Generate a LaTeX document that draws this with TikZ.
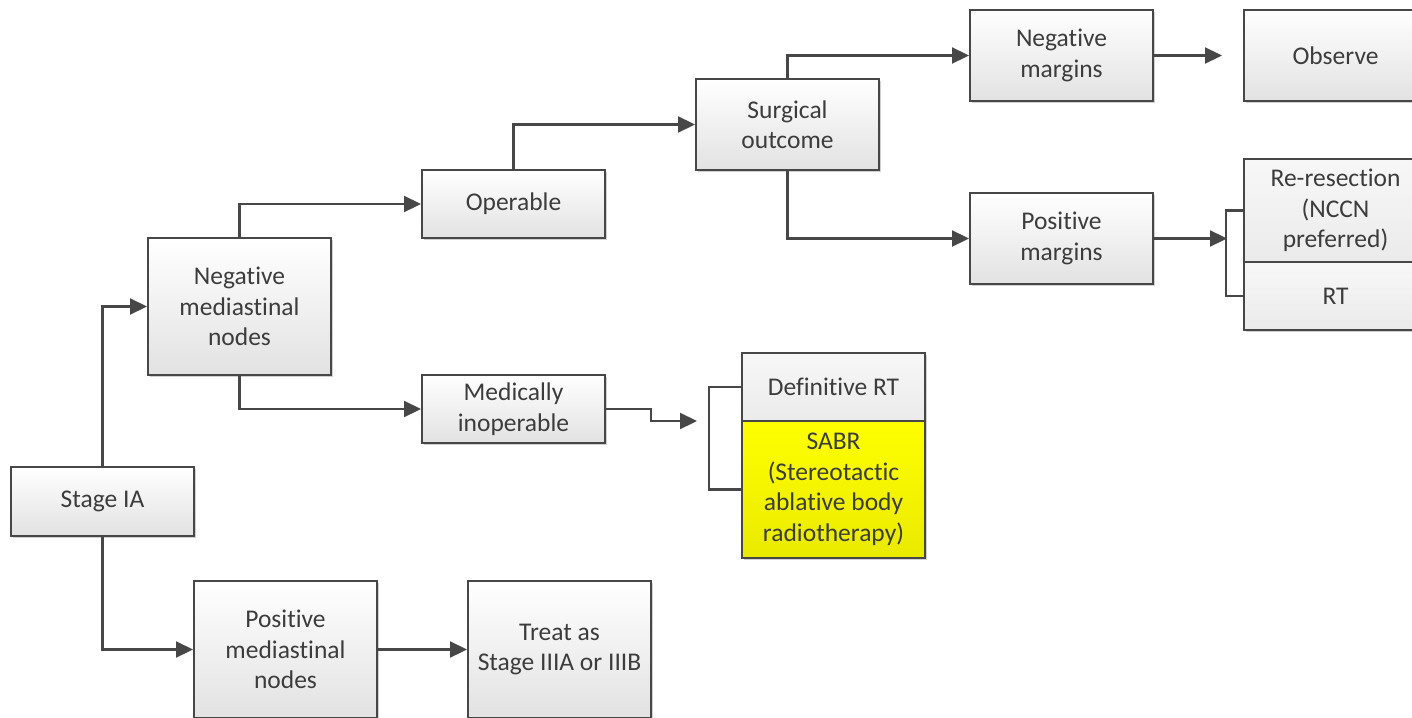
\documentclass[tikz,border=0pt]{standalone}
\usepackage{fontspec}
\setmainfont{Carlito}[Ligatures={NoCommon,NoDiscretionary,NoContextual}]
\usetikzlibrary{arrows.meta,shadows}
\definecolor{txt}{HTML}{3C3C3C}
\definecolor{edge}{HTML}{474747}
\definecolor{boxbot}{HTML}{E2E2E2}
\definecolor{ylw}{HTML}{FFFF00}
\definecolor{ylwb}{HTML}{EAEA00}
\tikzset{
  box/.style={draw=edge, line width=2pt, top color=white, bottom color=boxbot,
    minimum width=183pt, inner sep=0pt, align=center, text=txt,
    font=\fontsize{25.5}{30.5}\selectfont,
    drop shadow={shadow xshift=2pt, shadow yshift=-2pt, opacity=0.18, fill=black}},
  flatbox/.style={box, top color=white!97!black, bottom color=white!92!black},
  yelbox/.style={box, top color=ylw, bottom color=ylwb},
  conn/.style={draw=edge, line width=2.2pt},
  arr/.style={conn, -{Triangle[length=17pt,width=16pt]}}
}
\begin{document}
\begin{tikzpicture}[x=1pt,y=-1pt]
\clip (0,0) rectangle (1412,717);
\useasboundingbox (0,0) rectangle (1412,717);
\fill[white] (0,0) rectangle (1412,717);

\node[box, minimum height=69pt] (stage) at (102.5,501.5) {Stage IA};
\node[box, minimum height=137pt] (neg) at (239.5,306.5) {Negative\\mediastinal\\nodes};
\node[box, minimum height=137pt] (pos) at (285.5,649.5) {Positive\\mediastinal\\nodes};
\node[box, minimum height=137pt] (treat) at (559.5,649.5) {Treat as\\Stage IIIA or IIIB};
\node[box, minimum height=68pt] (oper) at (513.5,204) {Operable};
\node[box, minimum height=68pt] (med) at (513.5,409) {Medically\\inoperable};
\node[box, minimum height=91pt] (surg) at (787.5,124.5) {Surgical\\outcome};
\node[box, minimum height=91pt] (negm) at (1061.5,55.5) {Negative\\margins};
\node[box, minimum height=91pt] (posm) at (1061.5,238.5) {Positive\\margins};
\node[box, minimum height=91pt] (obs) at (1335.5,55.5) {Observe};
\node[flatbox, minimum height=103pt] (rer) at (1335.5,210.5) {Re-resection\\(NCCN\\preferred)};
\node[flatbox, minimum height=68pt] (rt) at (1335.5,296) {RT};
\node[flatbox, minimum height=68pt] (def) at (833.5,387) {Definitive RT};
\node[yelbox, minimum height=137pt] (sabr) at (833.5,489.5) {SABR\\(Stereotactic\\ablative body\\radiotherapy)};

\coordinate (obsin) at (1222,55.5);
\coordinate (rerin) at (1227,238.5);
\coordinate (defin) at (697,421);
\coordinate (medbend) at (651,409);

\draw[arr] (stage.north) |- (neg.west);
\draw[arr] (stage.south) |- (pos.west);
\draw[arr] (pos.east) -- (treat.west);
\draw[arr] (neg.north) |- (oper.west);
\draw[arr] (neg.south) |- (med.west);
\draw[arr] (oper.north) |- (surg.west);
\draw[arr] (surg.north) |- (negm.west);
\draw[arr] (surg.south) |- (posm.west);
\draw[arr] (negm.east) -- (obsin);
\draw[arr] (posm.east) -- (rerin);
\draw[conn] (rer.west) -- ++(-17,0) |- (rt.west);
\draw[arr] (med.east) -- (medbend) -- ++(0,12) -- (defin);
\draw[conn] (def.west) -- ++(-32,0) |- (sabr.west);
\end{tikzpicture}
\end{document}
